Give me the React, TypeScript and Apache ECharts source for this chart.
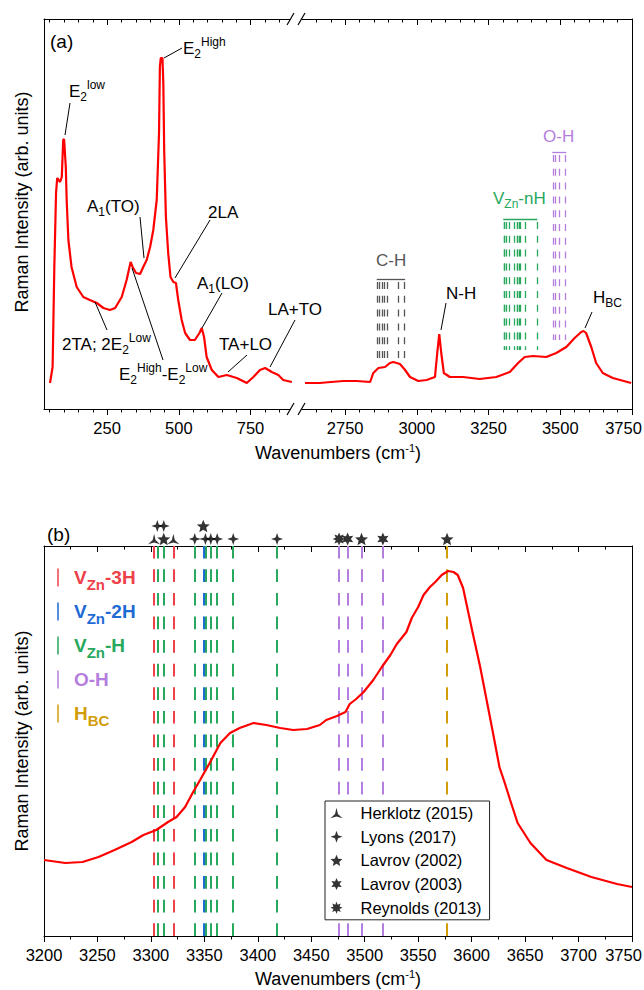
import React, { useEffect, useRef } from "react";
import * as echarts from "echarts";

// ================= DATA =================
// Panel (a): low-frequency segment (wavenumber cm-1, intensity arb. units)
const lowWavenumbers = [51, 60, 66, 72, 76, 86, 92, 97, 100, 106, 109, 115, 126, 144, 167, 190, 214, 237, 260, 278, 301, 318, 332, 339, 351, 365, 376, 388, 400, 411, 423, 431, 434, 437, 443, 446, 449, 455, 463, 471, 481, 490, 498, 510, 522, 539, 556, 572, 580, 588, 597, 615, 638, 667, 702, 737, 760, 783, 801, 824, 847, 864, 894];
const lowIntensity = [26, 42, 142, 216, 231, 227, 232, 269, 270, 242, 209, 169, 142, 122, 112, 109, 106, 101, 99, 101, 112, 129, 147, 142, 136, 135, 142, 149, 162, 179, 209, 276, 342, 351, 351, 326, 259, 192, 156, 132, 127, 126, 109, 89, 76, 69, 69, 76, 81, 72, 52, 39, 32, 34, 31, 26, 32, 39, 41, 37, 34, 29, 27];
// Panel (a): high-frequency segment
const highWavenumbers = [2610, 2662, 2700, 2744, 2790, 2837, 2848, 2866, 2889, 2906, 2918, 2941, 2959, 2976, 3005, 3034, 3063, 3071, 3078, 3085, 3094, 3115, 3161, 3219, 3277, 3324, 3353, 3376, 3405, 3451, 3486, 3521, 3550, 3573, 3581, 3590, 3608, 3625, 3648, 3683, 3747];
const highIntensity = [26, 26, 27, 28, 28, 27, 36, 41, 42, 46, 47, 45, 39, 32, 28, 29, 32, 56, 75, 56, 36, 32, 32, 30, 32, 37, 46, 52, 53, 52, 56, 62, 71, 77, 78, 76, 62, 46, 36, 31, 26];
// Panel (b): O-H stretch region
const zoomWavenumbers = [3200, 3220, 3236, 3251, 3266, 3282, 3293, 3305, 3316, 3324, 3332, 3339, 3346, 3355, 3365, 3374, 3383, 3396, 3408, 3421, 3433, 3446, 3458, 3464, 3474, 3482, 3486, 3492, 3499, 3508, 3516, 3524, 3530, 3539, 3544, 3550, 3555, 3561, 3566, 3572, 3578, 3583, 3587, 3592, 3597, 3601, 3608, 3614, 3620, 3626, 3631, 3636, 3643, 3655, 3670, 3689, 3712, 3736, 3750];
const zoomIntensity = [76, 73, 74, 79, 86, 94, 101, 106, 114, 119, 129, 143, 156, 173, 193, 203, 208, 213, 211, 208, 206, 207, 211, 216, 220, 224, 232, 237, 244, 256, 269, 281, 292, 304, 318, 329, 341, 349, 354, 361, 365, 364, 361, 348, 323, 303, 269, 236, 203, 169, 153, 136, 113, 93, 76, 68, 59, 52, 49];

// Reference line positions (cm-1)
const chLines = [2862, 2870, 2878, 2887, 2896, 2936, 2956];
const vzn3HLines = [3303, 3321];
const vzn2HLines = [3349];
const vznHLines = [3306, 3312, 3341, 3351, 3356, 3362, 3377, 3418];
const ohLines = [3476, 3484, 3497, 3517];
const hbcLines = [3577];

// Literature markers (cm-1): lower row / upper row
const herklotz2015 = [3303, 3321];
const lyons2017Low = [3341, 3351, 3356, 3362, 3377, 3418];
const lyons2017High = [3306, 3312];
const lavrov2002Low = [3312, 3497, 3577];
const lavrov2002High = [3349];
const lavrov2003 = [3484, 3517];
const reynolds2013 = [3476];

// Tick labels of panel (a)
const topTickValues = [250, 500, 750, 2750, 3000, 3250, 3500, 3750];

// ================= LAYOUT / STYLE =================
const FONT = '"Liberation Sans", Arial, Helvetica, sans-serif';
const SHIFT = 1670; // axis break compression
const BREAK = 912;
const toAxis = (w: number) => (w > BREAK ? w - SHIFT : w);
const fromAxis = (u: number) => (u > BREAK ? Math.round(u + SHIFT) : Math.round(u));

const C_RED = "#ee4149";
const C_BLUE = "#1f6ad4";
const C_GREEN = "#27a85c";
const C_PURPLE = "#b47ede";
const C_GOLD = "#d39d0a";
const C_SPEC = "#ff0000";
const C_CH = "#555555";

const ROW_LOW = 397;
const ROW_HIGH = 410;

const topMajor = topTickValues.map(toAxis);
const topMinor: number[] = [];
for (let w = 50; w <= 850; w += 50) if (!topTickValues.includes(w)) topMinor.push(w);
for (let w = 2650; w <= 3700; w += 50) if (!topTickValues.includes(w)) topMinor.push(toAxis(w));

function starPath(n: number, ratio: number, rotDeg = -90): string {
  const pts: string[] = [];
  for (let i = 0; i < 2 * n; i++) {
    const r = i % 2 === 0 ? 10 : 10 * ratio;
    const a = ((rotDeg + (i * 180) / n) * Math.PI) / 180;
    pts.push(`${(r * Math.cos(a)).toFixed(3)} ${(r * Math.sin(a)).toFixed(3)}`);
  }
  return "path://M" + pts.join(" L") + " Z";
}
const SYM_HERKLOTZ = starPath(3, 0.24);
const SYM_LYONS = starPath(4, 0.36);
const SYM_LAVROV02 = starPath(5, 0.45);
const SYM_LAVROV03 = starPath(6, 0.5);
const SYM_REYNOLDS = starPath(8, 0.55);

const axisLS = { color: "#000", width: 1 };

function richFor(color: string, sub: number, bold: boolean) {
  const fw = bold ? "bold" : "normal";
  return {
    sub: { fontSize: sub, fontFamily: FONT, fontWeight: fw, fill: color, verticalAlign: "bottom", lineHeight: 12 },
    sup: { fontSize: sub, fontFamily: FONT, fontWeight: fw, fill: color, verticalAlign: "top", lineHeight: 10 },
  };
}
function txt(text: string, x: number, y: number, o: any = {}) {
  const color = o.color || "#000";
  const size = o.size || 17;
  const sub = o.sub || 12;
  const bold = !!o.bold;
  return {
    type: "text",
    x,
    y,
    z: 100,
    silent: true,
    rotation: o.rotation || 0,
    style: {
      text,
      x: 0,
      y: 0,
      fill: color,
      fontSize: size,
      fontFamily: FONT,
      fontWeight: bold ? "bold" : "normal",
      lineHeight: o.lh || 24,
      textAlign: o.align || "left",
      textVerticalAlign: "middle",
      rich: richFor(color, sub, bold),
    },
  };
}
function seg(x1: number, y1: number, x2: number, y2: number, color = "#000", w = 1) {
  return { type: "line", z: 100, silent: true, shape: { x1, y1, x2, y2 }, style: { stroke: color, lineWidth: w } };
}

function buildGraphic() {
  const els: any[] = [];
  // axis break marks
  for (const yAx of [19, 409]) {
    els.push({ type: "rect", z: 99, silent: true, shape: { x: 290.5, y: yAx - 4, width: 11, height: 8 }, style: { fill: "#fff" } });
    els.push(seg(287, yAx + 6, 294, yAx - 6, "#000", 1.2));
    els.push(seg(298, yAx + 6, 305, yAx - 6, "#000", 1.2));
  }
  // panel letters
  els.push(txt("(a)", 50, 41, { size: 19 }));
  els.push(txt("(b)", 47, 534, { size: 19 }));
  // y axis titles
  els.push(txt("Raman Intensity (arb. units)", 22, 202, { size: 18, align: "center", rotation: Math.PI / 2 }));
  els.push(txt("Raman Intensity (arb. units)", 22, 741, { size: 18, align: "center", rotation: Math.PI / 2 }));
  // peak annotations of panel (a)
  const annots: [string, number, number, number[]][] = [
    ["E{sub|2}{sup|low}", 69, 91, [70, 103, 65, 135]],
    ["E{sub|2}{sup|High}", 183, 48, [164, 58, 182, 48]],
    ["A{sub|1}(TO)", 87, 206, [140, 217, 144, 258]],
    ["2LA", 208, 212, [210, 220, 175, 278]],
    ["A{sub|1}(LO)", 197, 283, [222, 293, 202, 328]],
    ["LA+TO", 268, 309, [295, 320, 270, 367]],
    ["TA+LO", 219, 344, [247, 355, 228, 372]],
    ["2TA; 2E{sub|2}{sup|Low}", 62, 344, [107, 330, 95, 302]],
    ["E{sub|2}{sup|High}-E{sub|2}{sup|Low}", 119, 374, [163, 360, 132, 268]],
    ["N-H", 446, 293, [446, 303, 441, 330]],
    ["H{sub|BC}", 593, 297, [592, 312, 585, 328]],
  ];
  annots.forEach(([t, x, y, l]) => {
    els.push(txt(t, x, y));
    els.push(seg(l[0], l[1], l[2], l[3]));
  });
  // group labels of panel (a)
  els.push(txt("C-H", 376, 260, { color: C_CH }));
  els.push(txt("V{sub|Zn}-nH", 493, 198, { color: C_GREEN }));
  els.push(txt("O-H", 543, 136, { color: C_PURPLE }));
  // colour key of panel (b)
  const keys: [string, string][] = [
    ["V{sub|Zn}-3H", C_RED],
    ["V{sub|Zn}-2H", C_BLUE],
    ["V{sub|Zn}-H", C_GREEN],
    ["O-H", C_PURPLE],
    ["H{sub|BC}", C_GOLD],
  ];
  keys.forEach(([t, c], i) => {
    const cy = 577.5 + 34 * i;
    els.push(seg(58, cy - 9, 58, cy + 9, c, 1.5));
    els.push(txt(t, 74, cy, { color: c, size: 19, sub: 15, bold: true, lh: 28 }));
  });
  return els;
}

function groupSeries(wns: number[], y1: number, y2: number, bar: [number, number, number], color: string) {
  return {
    type: "line",
    xAxisIndex: 0,
    yAxisIndex: 0,
    data: [],
    silent: true,
    z: 3,
    markLine: {
      silent: true,
      symbol: ["none", "none"],
      label: { show: false },
      emphasis: { disabled: true },
      lineStyle: { color, width: 1.3, type: [7, 6.8] },
      data: [
        ...wns.map((w) => [{ coord: [toAxis(w), y2] }, { coord: [toAxis(w), y1] }]),
        [
          { coord: [toAxis(bar[0]), bar[2]], lineStyle: { type: "solid", color, width: 1.3 } },
          { coord: [toAxis(bar[1]), bar[2]] },
        ],
      ],
    },
  };
}

function fullLines(wns: number[], color: string) {
  return {
    type: "line",
    xAxisIndex: 4,
    yAxisIndex: 2,
    data: [],
    silent: true,
    z: 3,
    markLine: {
      silent: true,
      symbol: ["none", "none"],
      label: { show: false },
      emphasis: { disabled: true },
      lineStyle: { color, width: 2, type: [12.7, 10.9] },
      data: wns.map((w) => ({ xAxis: w })),
    },
  };
}

function marker(name: string, symbol: string, size: number, rows: [number[], number][]) {
  return {
    type: "scatter",
    name,
    xAxisIndex: 4,
    yAxisIndex: 2,
    symbol,
    symbolSize: size,
    symbolKeepAspect: true,
    clip: false,
    silent: true,
    z: 10,
    itemStyle: { color: "#000" },
    data: rows.flatMap(([ws, lvl]) => ws.map((w) => [w, lvl])),
  };
}

const xName = {
  name: "Wavenumbers (cm{sup|-1})",
  nameLocation: "middle",
  nameTextStyle: {
    fontSize: 18,
    fontFamily: FONT,
    color: "#000",
    lineHeight: 22,
    rich: { sup: { fontSize: 11, fontFamily: FONT, color: "#000", verticalAlign: "top", lineHeight: 10 } },
  },
};

const tickLabel = {
  fontSize: 16.5,
  fontFamily: FONT,
  color: "#000",
  margin: 10,
  rich: { last: { fontSize: 16.5, fontFamily: FONT, color: "#000", padding: [0, 17, 0, 0] } },
};
const labelText = (w: number) => (w === 3750 ? `{last|${w}}` : String(w));

const option: any = {
  animation: false,
  textStyle: { fontFamily: FONT },
  grid: [
    { left: 44, right: 12, top: 19, height: 390, outerBoundsMode: "none", containLabel: false },
    { left: 44, right: 12, top: 546, height: 390, outerBoundsMode: "none", containLabel: false },
  ],
  xAxis: [
    {
      gridIndex: 0, type: "value", position: "bottom", min: 30, max: 2080,
      axisLine: { show: true, onZero: false, lineStyle: axisLS },
      splitLine: { show: false },
      axisTick: { show: true, length: 6, customValues: topMajor, lineStyle: axisLS },
      axisLabel: { ...tickLabel, customValues: topMajor, formatter: (v: number) => labelText(fromAxis(v)) },
      ...xName, nameGap: 33,
    },
    {
      gridIndex: 0, type: "value", position: "bottom", min: 30, max: 2080,
      axisLine: { show: false, onZero: false }, splitLine: { show: false },
      axisTick: { show: true, length: 3.5, customValues: topMinor, lineStyle: axisLS },
      axisLabel: { show: false },
    },
    {
      gridIndex: 0, type: "value", position: "top", min: 30, max: 2080,
      axisLine: { show: true, onZero: false, lineStyle: axisLS }, splitLine: { show: false },
      axisTick: { show: true, inside: true, length: 6, customValues: topMajor, lineStyle: axisLS },
      axisLabel: { show: false },
    },
    {
      gridIndex: 0, type: "value", position: "top", min: 30, max: 2080,
      axisLine: { show: false, onZero: false }, splitLine: { show: false },
      axisTick: { show: true, inside: true, length: 3.5, customValues: topMinor, lineStyle: axisLS },
      axisLabel: { show: false },
    },
    {
      gridIndex: 1, type: "value", position: "bottom", min: 3200, max: 3750, interval: 50,
      axisLine: { show: true, onZero: false, lineStyle: axisLS }, splitLine: { show: false },
      axisTick: { show: true, length: 6, lineStyle: axisLS },
      minorTick: { show: true, splitNumber: 2, length: 3.5, lineStyle: axisLS },
      minorSplitLine: { show: false },
      axisLabel: { ...tickLabel, showMinLabel: true, showMaxLabel: true, formatter: (v: number) => labelText(Math.round(v)) },
      ...xName, nameGap: 32,
    },
    {
      gridIndex: 1, type: "value", position: "top", min: 3200, max: 3750, interval: 50,
      axisLine: { show: true, onZero: false, lineStyle: axisLS }, splitLine: { show: false },
      axisTick: { show: true, inside: true, length: 6, lineStyle: axisLS },
      minorTick: { show: true, splitNumber: 2, length: 3.5, lineStyle: axisLS },
      axisLabel: { show: false },
    },
  ],
  yAxis: [0, 0, 1, 1].map((g, i) => ({
    gridIndex: g,
    type: "value",
    position: i % 2 === 0 ? "left" : "right",
    min: 0,
    max: 390,
    axisLine: { show: true, onZero: false, lineStyle: axisLS },
    axisTick: { show: false },
    axisLabel: { show: false },
    splitLine: { show: false },
  })),
  legend: {
    orient: "vertical",
    left: 325,
    top: 801,
    z: 20,
    padding: [3, 8, 3, 5.5],
    itemWidth: 12,
    itemHeight: 12,
    itemGap: 5.7,
    borderColor: "#222",
    borderWidth: 1,
    backgroundColor: "#fff",
    selectedMode: false,
    textStyle: { fontFamily: FONT, fontSize: 16.5, color: "#000", lineHeight: 18, padding: [0, 0, 0, 13] },
    data: ["Herklotz (2015)", "Lyons (2017)", "Lavrov (2002)", "Lavrov (2003)", "Reynolds (2013)"],
  },
  series: [
    groupSeries(chLines, 51, 127, [2860, 2959, 130], C_CH),
    groupSeries([...vzn3HLines, ...vzn2HLines, ...vznHLines], 59, 187, [3301, 3420, 190], C_GREEN),
    groupSeries(ohLines, 69, 254, [3472, 3521, 257], C_PURPLE),
    {
      type: "line", xAxisIndex: 0, yAxisIndex: 0, showSymbol: false, silent: true, z: 5,
      lineStyle: { color: C_SPEC, width: 2.2 },
      data: lowWavenumbers.map((w, i) => [toAxis(w), lowIntensity[i]]),
    },
    {
      type: "line", xAxisIndex: 0, yAxisIndex: 0, showSymbol: false, silent: true, z: 5,
      lineStyle: { color: C_SPEC, width: 2.2 },
      data: highWavenumbers.map((w, i) => [toAxis(w), highIntensity[i]]),
    },
    fullLines(vzn3HLines, C_RED),
    fullLines(vznHLines, C_GREEN),
    fullLines(vzn2HLines, C_BLUE),
    fullLines(ohLines, C_PURPLE),
    fullLines(hbcLines, C_GOLD),
    {
      type: "line", xAxisIndex: 4, yAxisIndex: 2, showSymbol: false, silent: true, z: 5,
      lineStyle: { color: C_SPEC, width: 2.2 },
      data: zoomWavenumbers.map((w, i) => [w, zoomIntensity[i]]),
    },
    marker("Herklotz (2015)", SYM_HERKLOTZ, 12, [[herklotz2015, ROW_LOW]]),
    marker("Lyons (2017)", SYM_LYONS, 12, [[lyons2017Low, ROW_LOW], [lyons2017High, ROW_HIGH]]),
    marker("Lavrov (2002)", SYM_LAVROV02, 13, [[lavrov2002Low, ROW_LOW], [lavrov2002High, ROW_HIGH]]),
    marker("Lavrov (2003)", SYM_LAVROV03, 13, [[lavrov2003, ROW_LOW]]),
    marker("Reynolds (2013)", SYM_REYNOLDS, 13, [[reynolds2013, ROW_LOW]]),
  ],
  graphic: { elements: buildGraphic() },
};

export default function App() {
  const ref = useRef<HTMLDivElement>(null);
  useEffect(() => {
    const chart = echarts.init(ref.current as HTMLDivElement, null, { renderer: "svg" });
    chart.setOption(option);
    return () => chart.dispose();
  }, []);
  return <div ref={ref} style={{ position: "absolute", left: 0, top: 0, width: 644, height: 990, background: "#fff" }} />;
}
